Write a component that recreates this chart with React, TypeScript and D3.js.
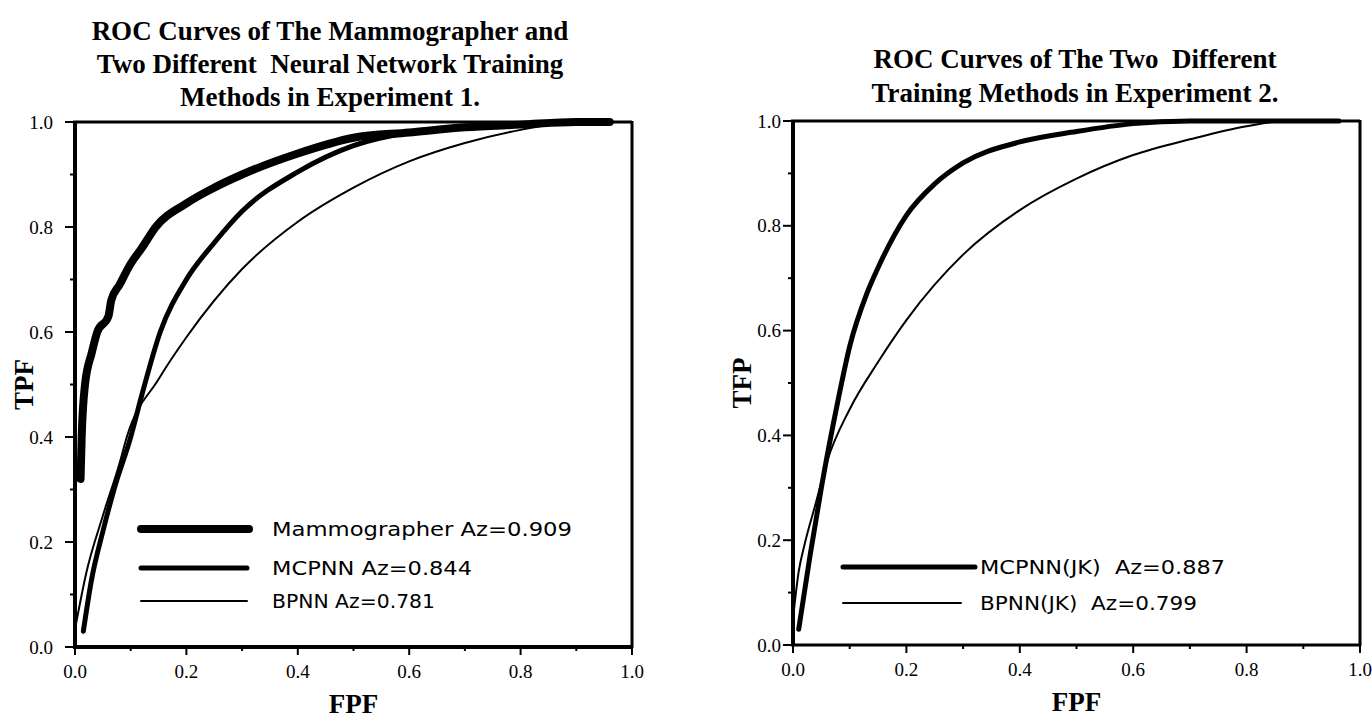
import React from 'react'
import * as d3 from 'd3'

// axis ticks
const majorTicks = [0, 0.2, 0.4, 0.6, 0.8, 1.0]
const minorTicks = [0.1, 0.3, 0.5, 0.7, 0.9]
const tickLabels = ['0.0', '0.2', '0.4', '0.6', '0.8', '1.0']

// Experiment 1
const mammoFpf = [0.01, 0.012, 0.018, 0.03, 0.04, 0.06, 0.065, 0.08, 0.1, 0.12, 0.145, 0.2, 0.25, 0.3, 0.4, 0.5, 0.6, 0.7, 0.8, 0.9, 0.96]
const mammoTpf = [0.32, 0.4, 0.5, 0.56, 0.6, 0.63, 0.66, 0.69, 0.73, 0.76, 0.8, 0.845, 0.875, 0.9, 0.94, 0.97, 0.98, 0.99, 0.995, 1.0, 1.0]
const mcpnnFpf = [0.015, 0.03, 0.05, 0.07, 0.1, 0.12, 0.153, 0.2, 0.25, 0.3, 0.4, 0.5, 0.6, 0.7, 0.8, 0.9, 0.96]
const mcpnnTpf = [0.03, 0.13, 0.22, 0.3, 0.4, 0.48, 0.6, 0.7, 0.77, 0.83, 0.905, 0.955, 0.98, 0.99, 0.995, 1.0, 1.0]
const bpnnFpf = [0.002, 0.02, 0.05, 0.08, 0.093, 0.15, 0.2, 0.3, 0.4, 0.5, 0.6, 0.7, 0.8, 0.9, 0.96]
const bpnnTpf = [0.045, 0.14, 0.25, 0.35, 0.4, 0.51, 0.59, 0.72, 0.81, 0.875, 0.925, 0.96, 0.985, 1.0, 1.0]

// Experiment 2
const mcpnnJkFpf = [0.01, 0.03, 0.05, 0.08, 0.1, 0.13, 0.15, 0.2, 0.25, 0.3, 0.4, 0.5, 0.6, 0.7, 0.8, 0.963]
const mcpnnJkTpf = [0.03, 0.17, 0.3, 0.47, 0.57, 0.67, 0.72, 0.82, 0.88, 0.92, 0.96, 0.98, 0.995, 1.0, 1.0, 1.0]
const bpnnJkFpf = [0.002, 0.01, 0.02, 0.04, 0.06, 0.1, 0.15, 0.2, 0.3, 0.4, 0.5, 0.6, 0.7, 0.8, 0.87, 0.963]
const bpnnJkTpf = [0.07, 0.14, 0.19, 0.27, 0.35, 0.45, 0.54, 0.62, 0.745, 0.83, 0.89, 0.935, 0.965, 0.99, 1.0, 1.0]

const serif = '"Liberation Serif", "Times New Roman", serif'
const sans = '"DejaVu Sans", sans-serif'

type Series = { fpf: number[]; tpf: number[]; width: number; label: string; textLen: number; legendW: number }

function RocPanel(props: {
  left: number; right: number; top: number; bottom: number
  title: string[]; titleX: number; titleY: number[]
  yTitle: string; series: Series[]
  legendX0: number; legendTextX: number; legendY: number[]
  frame: { left: number; bottom: number; top: number; right: number }
  labelEndX: number
}) {
  const x = d3.scaleLinear().domain([0, 1]).range([props.left, props.right])
  const y = d3.scaleLinear().domain([0, 1]).range([props.bottom, props.top])
  const line = d3.line<[number, number]>()
    .x(d => x(d[0]))
    .y(d => y(d[1]))
    .curve(d3.curveMonotoneX)

  return (
    <g>
      {props.title.map((t, i) => (
        <text key={i} x={props.titleX} y={props.titleY[i]} textAnchor="middle"
          fontFamily={serif} fontWeight="bold" fontSize={27} style={{ whiteSpace: 'pre' }}>{t}</text>
      ))}

      {/* frame */}
      <line x1={x(0)} x2={x(0)} y1={y(0)} y2={y(1)} stroke="#000" strokeWidth={props.frame.left} />
      <line x1={x(0) - 2} x2={x(1)} y1={y(0)} y2={y(0)} stroke="#000" strokeWidth={props.frame.bottom} />
      <line x1={x(0) - 2} x2={x(1)} y1={y(1)} y2={y(1)} stroke="#000" strokeWidth={props.frame.top} />
      <line x1={x(1)} x2={x(1)} y1={y(0) + 1} y2={y(1) - 1} stroke="#000" strokeWidth={props.frame.right} />

      {/* y ticks */}
      {majorTicks.map((t, i) => (
        <g key={'y' + i}>
          <line x1={x(0) - 10} x2={x(0)} y1={y(t)} y2={y(t)} stroke="#000" strokeWidth={2} />
          <text x={props.labelEndX} y={y(t)} dy="0.35em" textAnchor="end" fontFamily={serif} fontSize={19}>{tickLabels[i]}</text>
        </g>
      ))}
      {minorTicks.map((t, i) => (
        <line key={'ym' + i} x1={x(0) - 5} x2={x(0)} y1={y(t)} y2={y(t)} stroke="#000" strokeWidth={2} />
      ))}

      {/* x ticks */}
      {majorTicks.map((t, i) => (
        <g key={'x' + i}>
          <line x1={x(t)} x2={x(t)} y1={y(0)} y2={y(0) + 8} stroke="#000" strokeWidth={2} />
          <text x={x(t)} y={y(0) + 31} textAnchor="middle" fontFamily={serif} fontSize={19}>{tickLabels[i]}</text>
        </g>
      ))}
      {minorTicks.map((t, i) => (
        <line key={'xm' + i} x1={x(t)} x2={x(t)} y1={y(0)} y2={y(0) + 4} stroke="#000" strokeWidth={2} />
      ))}

      {/* axis titles */}
      <text transform={`translate(${props.left - 42},${(props.top + props.bottom) / 2}) rotate(-90)`}
        textAnchor="middle" fontFamily={serif} fontWeight="bold" fontSize={27}>{props.yTitle}</text>
      <text x={(props.left + props.right) / 2} y={props.bottom + 66} textAnchor="middle"
        fontFamily={serif} fontWeight="bold" fontSize={27}>FPF</text>

      {/* curves */}
      {props.series.map((s, i) => (
        <path key={'c' + i} d={line(s.fpf.map((f, j) => [f, s.tpf[j]] as [number, number])) || ''}
          fill="none" stroke="#000" strokeWidth={s.width} strokeLinecap="round" strokeLinejoin="round" />
      ))}

      {/* legend */}
      {props.series.map((s, i) => (
        <g key={'l' + i}>
          <line x1={props.legendX0} x2={props.legendX0 + s.legendW} y1={props.legendY[i]} y2={props.legendY[i]}
            stroke="#000" strokeWidth={s.width} strokeLinecap="round" />
          <text x={props.legendTextX} y={props.legendY[i]} dy="0.36em" fontFamily={sans} fontSize={20}
            textLength={s.textLen} lengthAdjust="spacingAndGlyphs" style={{ whiteSpace: 'pre' }}>{s.label}</text>
        </g>
      ))}
    </g>
  )
}

export default function App() {
  const left: Series[] = [
    { fpf: mammoFpf, tpf: mammoTpf, width: 8, label: 'Mammographer Az=0.909', textLen: 300, legendW: 108 },
    { fpf: mcpnnFpf, tpf: mcpnnTpf, width: 5, label: 'MCPNN Az=0.844', textLen: 200, legendW: 106 },
    { fpf: bpnnFpf, tpf: bpnnTpf, width: 2, label: 'BPNN Az=0.781', textLen: 163, legendW: 106 },
  ]
  const right: Series[] = [
    { fpf: mcpnnJkFpf, tpf: mcpnnJkTpf, width: 5, label: 'MCPNN(JK)  Az=0.887', textLen: 245, legendW: 132 },
    { fpf: bpnnJkFpf, tpf: bpnnJkTpf, width: 2, label: 'BPNN(JK)  Az=0.799', textLen: 217, legendW: 118 },
  ]
  return (
    <svg width={1372} height={719} style={{ position: 'absolute', left: 0, top: 0, background: '#fff' }}>
      <rect width={1372} height={719} fill="#fff" />
      <RocPanel left={75} right={632} top={122} bottom={647}
        title={['ROC Curves of The Mammographer and', 'Two Different  Neural Network Training', 'Methods in Experiment 1.']}
        titleX={330} titleY={[40, 73, 106]} yTitle="TPF" series={left}
        legendX0={141} legendTextX={272} legendY={[529, 568, 601]}
        frame={{ left: 4, bottom: 4, top: 3, right: 3 }} labelEndX={53} />
      <RocPanel left={793} right={1360} top={121} bottom={645}
        title={['ROC Curves of The Two  Different', 'Training Methods in Experiment 2.']}
        titleX={1075} titleY={[68, 102]} yTitle="TFP" series={right}
        legendX0={843} legendTextX={980} legendY={[567, 603]}
        frame={{ left: 4, bottom: 3, top: 3, right: 3 }} labelEndX={781} />
    </svg>
  )
}
